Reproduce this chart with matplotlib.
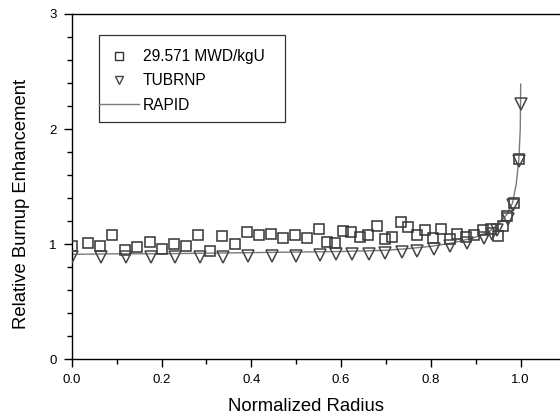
import matplotlib
matplotlib.use("Agg")
import matplotlib.pyplot as plt
from matplotlib.ticker import MultipleLocator, FormatStrFormatter
from matplotlib.patches import Rectangle

plt.rcParams['font.family'] = ['Liberation Sans', 'DejaVu Sans']

# 29.571 MWD/kgU measured points
meas_r = [0.0, 0.036, 0.063, 0.09, 0.118, 0.146, 0.175, 0.20, 0.228, 0.255, 0.282, 0.308,
          0.334, 0.363, 0.39, 0.417, 0.444, 0.47, 0.497, 0.524, 0.551, 0.569, 0.587, 0.605,
          0.623, 0.641, 0.66, 0.679, 0.698, 0.714, 0.733, 0.75, 0.769, 0.787, 0.805, 0.823,
          0.842, 0.858, 0.878, 0.897, 0.915, 0.933, 0.95, 0.96, 0.97, 0.985, 0.996]
meas_v = [0.98, 1.01, 0.985, 1.075, 0.95, 0.97, 1.02, 0.955, 1.0, 0.98, 1.075, 0.94,
          1.07, 1.0, 1.10, 1.075, 1.084, 1.05, 1.08, 1.05, 1.13, 1.02, 1.01, 1.11,
          1.10, 1.06, 1.075, 1.16, 1.04, 1.06, 1.19, 1.15, 1.08, 1.12, 1.05, 1.13,
          1.04, 1.087, 1.06, 1.08, 1.12, 1.13, 1.07, 1.16, 1.24, 1.36, 1.74]

# TUBRNP
tub_r = [0.0, 0.066, 0.12, 0.177, 0.231, 0.285, 0.337, 0.392, 0.447, 0.50, 0.553, 0.588,
         0.625, 0.663, 0.697, 0.735, 0.77, 0.808, 0.843, 0.88, 0.918, 0.936, 0.948, 0.971,
         0.982, 0.996, 1.0]
tub_v = [0.89, 0.89, 0.89, 0.89, 0.89, 0.89, 0.89, 0.895, 0.90, 0.90, 0.905, 0.91,
         0.91, 0.91, 0.92, 0.93, 0.94, 0.96, 0.98, 1.01, 1.05, 1.09, 1.12, 1.22,
         1.34, 1.72, 2.22]

# RAPID
rapid_r = [0.0, 0.1, 0.2, 0.3, 0.4, 0.5, 0.6, 0.65, 0.7, 0.75, 0.8, 0.85, 0.9, 0.93,
           0.95, 0.97, 0.982, 0.99, 0.996, 0.999, 1.0]
rapid_v = [0.91, 0.915, 0.915, 0.92, 0.925, 0.93, 0.935, 0.94, 0.945, 0.96, 0.98, 1.01,
           1.06, 1.11, 1.17, 1.26, 1.36, 1.52, 1.74, 2.0, 2.39]

W, H = 560, 419
x0, y0, ytop = 71.7, 359, 14
fig = plt.figure(figsize=(W / 100, H / 100), dpi=100)
ax = fig.add_axes([x0 / W, (H - y0) / H, 1 - x0 / W, (y0 - ytop) / H])

ax.plot(rapid_r, rapid_v, '-', color='#7a7a7a', lw=1.0, label='RAPID', zorder=2)
ax.plot(meas_r, meas_v, 's', ms=7, mfc='none', mec='#333333', mew=1.1,
        label='29.571 MWD/kgU', zorder=3)
ax.plot(tub_r, tub_v, 'v', ms=9, mfc='none', mec='#444444', mew=1.1,
        label='TUBRNP', zorder=3)

ax.set_xlim(0, (W - x0) / 449)
ax.set_ylim(0, 3)
ax.xaxis.set_major_locator(MultipleLocator(0.2))
ax.xaxis.set_minor_locator(MultipleLocator(0.1))
ax.yaxis.set_major_locator(MultipleLocator(1))
ax.yaxis.set_minor_locator(MultipleLocator(0.2))
ax.xaxis.set_major_formatter(FormatStrFormatter('%.1f'))
ax.tick_params(which='major', direction='out', length=6, width=1, labelsize=9.5)
ax.tick_params(which='minor', direction='out', length=3.5, width=1)
ax.tick_params(axis='x', pad=5)
ax.tick_params(axis='y', pad=5)
ax.spines['right'].set_visible(False)
for s in ['left', 'bottom', 'top']:
    ax.spines[s].set_linewidth(1.0)

ax.set_xlabel('Normalized Radius', fontsize=13.3)
ax.set_ylabel('Relative Burnup Enhancement', fontsize=13.3)
ax.xaxis.set_label_coords((306 - x0) / (W - x0), (y0 - 398) / (y0 - ytop))
ax.yaxis.set_label_coords((30 - x0) / (W - x0), (y0 - 204) / (y0 - ytop))

# legend (frame drawn separately so the line handle touches the border)
def px(x, y):
    return (x - x0) / (W - x0), (y0 - y) / (y0 - ytop)

h, l = ax.get_legend_handles_labels()
leg = ax.legend([h[1], h[2], h[0]], [l[1], l[2], l[0]], loc='upper left',
                bbox_to_anchor=px(99, 49), fontsize=11.2, frameon=False,
                borderpad=0, labelspacing=0.6, handlelength=2.6,
                handletextpad=0.2, borderaxespad=0)
for lh in leg.legend_handles[:2]:
    lh.set_markersize(6)
    lh.set_markeredgewidth(1.0)

bx, by = px(99, 122)
bx2, by2 = px(285, 35)
ax.add_patch(Rectangle((bx, by), bx2 - bx, by2 - by, transform=ax.transAxes,
                       fill=False, edgecolor='#333333', lw=0.9, zorder=5))

fig.savefig('out.png', dpi=100)
